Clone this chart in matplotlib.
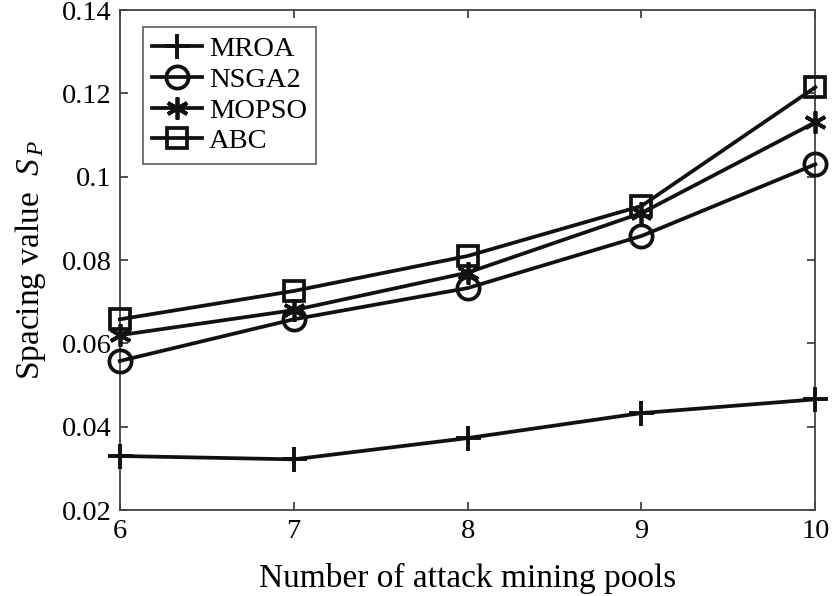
import matplotlib
matplotlib.use("Agg")
import matplotlib.pyplot as plt

plt.rcParams['font.family'] = ['Liberation Serif', 'DejaVu Serif']
plt.rcParams['mathtext.fontset'] = 'custom'
plt.rcParams['mathtext.it'] = 'Liberation Serif:italic'
plt.rcParams['mathtext.rm'] = 'Liberation Serif'

x = [6, 7, 8, 9, 10]
mroa = [0.0330, 0.0322, 0.0373, 0.0433, 0.0466]
nsga2 = [0.0558, 0.0658, 0.0733, 0.0858, 0.1030]
mopso = [0.0620, 0.0680, 0.0770, 0.0913, 0.1131]
abc = [0.0658, 0.0726, 0.0810, 0.0930, 0.1215]

fig = plt.figure(figsize=(8.32, 5.96), dpi=100)
ax = fig.add_axes([0.144, 0.144, 0.836, 0.839])

lw = 2.7
c = '#111111'
ax.plot(x, mroa, '-', color=c, lw=lw, marker='+', ms=18, mew=2.8, label='MROA', clip_on=False, zorder=3)
ax.plot(x, nsga2, '-', color=c, lw=lw, marker='o', ms=16, mew=2.7, mfc='none', label='NSGA2', clip_on=False, zorder=3)
ax.plot(x, mopso, '-', color=c, lw=lw, marker=(6, 2, 0), ms=16, mew=2.7, label='MOPSO', clip_on=False, zorder=3)
ax.plot(x, abc, '-', color=c, lw=lw, marker='s', ms=14, mew=2.7, mfc='none', label='ABC', clip_on=False, zorder=3)

ax.set_xlim(6, 10)
ax.set_ylim(0.02, 0.14)
ax.set_xticks([6, 7, 8, 9, 10])
ax.set_yticks([0.02, 0.04, 0.06, 0.08, 0.1, 0.12, 0.14])
ax.set_yticklabels(['0.02', '0.04', '0.06', '0.08', '0.1', '0.12', '0.14'])
ax.tick_params(direction='in', length=6, width=1.2, labelsize=20.5, colors='#333333', labelcolor='black',
               top=True, right=True, pad=6)
for s in ax.spines.values():
    s.set_linewidth(1.3)
    s.set_color('#444444')

ax.set_xlabel('Number of attack mining pools', fontsize=24, labelpad=14)
ax.set_ylabel(r'Spacing value  $S_{\,P}$', fontsize=24, labelpad=10)

leg = ax.legend(loc='upper left', fontsize=20.5, frameon=True, fancybox=False, edgecolor='#444444',
                handlelength=1.75, borderpad=0.33, labelspacing=0.17, handletextpad=0.25,
                borderaxespad=0.0, bbox_to_anchor=(0.033, 0.967))
leg.get_frame().set_linewidth(1.3)

fig.savefig('out.png', dpi=100)
